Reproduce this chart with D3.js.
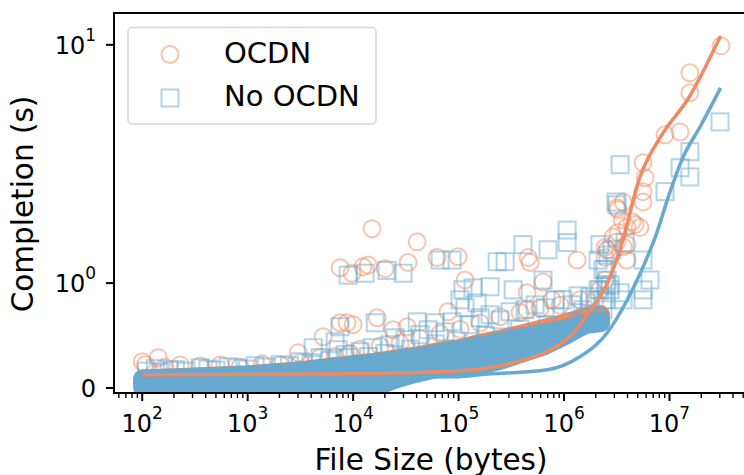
<!DOCTYPE html>
<html>
<head>
<meta charset="utf-8">
<title>Completion vs File Size</title>
<script src="https://d3js.org/d3.v7.min.js"></script>
<style>
  body { margin: 0; background: #fff; }
  svg text { font-family: "DejaVu Sans", sans-serif; fill: #000; }
</style>
</head>
<body>
<div id="chart"></div>
<script>
// ---- data (file size in bytes, completion time in s) ----
const ocdnSize = [15100, 40500, 7530, 9770, 12400, 13900, 20100, 33200, 62500, 98900,
  115000, 79400, 7530, 8770, 10000, 16900, 32500, 23900, 5200, 3010,
  456000, 476000, 1330000, 632000, 446000, 769000, 446000, 2560000, 2450000, 3250000,
  3950000, 4710000, 3180000, 3630000, 3950000, 3550000, 5610000, 3630000, 3180000, 9060000,
  12600000, 5610000, 5860000, 5610000, 3250000, 4420000, 5250000, 2920000, 2450000, 3950000,
  30800000, 15600000, 15600000, 142, 100, 107,
  165, 229, 355, 548, 849, 1371, 2032, 3148, 4866, 6745, 9376, 11650, 18030, 27860,
  43150, 66830, 103300, 159900, 247200, 382800, 592900, 916800, 1419000, 1968000,
  2193000, 2448000, 1764000];
const ocdnTime = [1.69, 1.49, 1.16, 1.10, 1.17, 1.19, 1.15, 1.22, 1.28, 1.29,
  1.03, 0.727, 0.622, 0.622, 0.603, 0.67, 0.584, 0.555, 0.489, 0.336,
  1.28, 1.22, 1.25, 1.01, 0.908, 0.841, 0.746, 1.38, 1.28, 1.63,
  1.72, 1.76, 1.49, 1.42, 1.25, 1.84, 2.19, 2.19, 2.07, 4.19,
  4.31, 3.2, 2.77, 2.42, 2.03, 1.81, 1.71, 1.56, 1.41, 1.45,
  9.9, 7.63, 6.29, 0.289, 0.25, 0.222,
  0.2, 0.22, 0.21, 0.22, 0.2, 0.23, 0.22, 0.24, 0.29, 0.3, 0.33, 0.37, 0.4, 0.43,
  0.47, 0.52, 0.56, 0.62, 0.68, 0.72, 0.76, 0.79, 0.841, 0.841,
  0.936, 1.03, 0.698];

const noSize = [8970, 13000, 21000, 29800, 66800, 86700, 110000, 137000, 16200, 7500,
  40500, 59800, 103000, 115000, 150000, 4180, 6750, 232000, 276000, 408000,
  705000, 1070000, 1070000, 3180000, 199000, 329000, 632000, 2340000, 2560000, 5610000,
  5610000, 5610000, 3400000, 3630000, 977000, 1760000, 1510000, 30100000, 15600000, 12600000,
  15600000, 9060000, 3400000, 3110000, 3790000,
  2190000, 2340000, 2500000, 2190000, 2730000, 2450000, 2100000, 2610000, 2850000, 2190000, 6530000,
  133, 206, 355, 653, 1178, 2032, 3148, 4866, 7209, 8397,
  11650, 15130, 22430, 25010, 31110, 43150, 51400, 74470, 86700, 128500,
  159900, 199100, 247200, 307400, 426600, 530900, 660700, 822200, 1191000, 1358000,
  1764000, 2099000, 2344000, 2500000, 2729000,
  110, 150, 180, 260, 420, 500, 800, 1000, 1500, 2500, 4000, 6000, 9000, 14000, 20000,
  35000, 60000, 95000, 180000, 380000, 700000, 1600000, 2000000];
const noTime = [1.08, 1.10, 1.13, 1.10, 1.25, 1.25, 0.936, 0.955, 0.622, 0.584,
  0.631, 0.622, 0.841, 0.765, 0.812, 0.384, 0.441, 1.23, 1.23, 1.45,
  1.38, 1.67, 1.48, 2.13, 0.965, 0.936, 1.03, 1.14, 1.03, 1.25,
  0.936, 0.841, 0.908, 0.841, 0.841, 0.87, 0.746, 4.75, 3.56, 3.05,
  2.79, 2.42, 3.14, 2.19, 1.48,
  0.65, 0.746, 0.841, 0.936, 0.984, 1.14, 1.25, 1.31, 1.38, 1.45, 1.03,
  0.184, 0.174, 0.193, 0.203, 0.212, 0.222, 0.25, 0.289, 0.365, 0.317,
  0.346, 0.384, 0.412, 0.479, 0.46, 0.508, 0.555, 0.536, 0.631, 0.603,
  0.67, 0.698, 0.65, 0.727, 0.746, 0.793, 0.765, 0.841, 0.793, 0.879,
  0.841, 0.936, 0.841, 0.984, 0.936,
  0.16, 0.15, 0.17, 0.16, 0.18, 0.17, 0.19, 0.18, 0.2, 0.21, 0.24, 0.26, 0.29, 0.3, 0.33,
  0.37, 0.42, 0.45, 0.5, 0.56, 0.6, 0.68, 0.7];

// dense part of each cloud: range of completion times per file size
const bandSize = [100, 316, 1000, 3162, 10000, 15850, 25120, 39810, 63100, 100000,
  158500, 251200, 398100, 631000, 1000000, 1585000, 2239000];
const noLow = [0, 0, 0, 0, 0, 0, 0.079, 0.136, 0.184, 0.203, 0.212, 0.26, 0.327, 0.393, 0.489, 0.6, 0.62];
const noHigh = [0.089, 0.108, 0.127, 0.165, 0.222, 0.241, 0.27, 0.298, 0.336, 0.374, 0.412, 0.45, 0.489, 0.527, 0.565, 0.62, 0.64];
const ocdnLow = [0.03, 0.03, 0.03, 0.03, 0.03, 0.03, 0.09, 0.15, 0.2, 0.22, 0.23, 0.28, 0.35, 0.41, 0.5, 0.61, 0.63];
const ocdnHigh = [0.09, 0.11, 0.13, 0.17, 0.23, 0.25, 0.28, 0.31, 0.35, 0.38, 0.43, 0.47, 0.52, 0.57, 0.62, 0.68, 0.7];

// fitted trend lines
const ocdnFitSize = [100, 9300, 100000, 330000, 690000, 1230000, 1780000, 2570000, 3390000, 5250000, 8700000, 14800000, 30500000];
const ocdnFit = [0.127, 0.136, 0.164, 0.241, 0.347, 0.527, 0.746, 1.0, 1.38, 2.79, 4.27, 5.88, 10.9];
const noFitSize = [100, 100000, 158000, 690000, 1410000, 2570000, 3980000, 5620000, 7590000, 9550000, 13500000, 19500000, 30500000];
const noFit = [0.089, 0.108, 0.127, 0.174, 0.298, 0.527, 0.841, 1.17, 1.63, 2.24, 3.39, 4.53, 6.6];

const xTicks = [1e2, 1e3, 1e4, 1e5, 1e6, 1e7];
const yTicks = [0, 1, 10];
const yTickExp = [null, "0", "1"];

const orange = "#ef8a62", blue = "#67a9cf";

// ---- layout ----
const width = 744, height = 475;
const plotLeft = 114, plotRight = 748, plotTop = 13, plotBottom = 393;

const svg = d3.select("#chart").append("svg")
  .attr("width", width).attr("height", height);

const x = d3.scaleLog().domain([54, 5.55e7]).range([plotLeft, plotRight]);

// symlog y axis, linear between 0 and 1
const linSpan = 0.44;
const symT = v => v <= 1 ? v * linSpan : linSpan + Math.log10(v);
const yLin = d3.scaleLinear().domain([symT(-0.048), symT(13.6)]).range([plotBottom, plotTop]);
const y = v => yLin(symT(v));

svg.append("clipPath").attr("id", "plotClip")
  .append("rect").attr("x", plotLeft).attr("y", plotTop)
  .attr("width", plotRight - plotLeft).attr("height", plotBottom - plotTop);

const plot = svg.append("g").attr("clip-path", "url(#plotClip)");

const band = d3.area()
  .x(d => x(d.size)).y0(d => y(d.low)).y1(d => y(d.high));

const ocdnBand = bandSize.map((s, i) => ({ size: s, low: ocdnLow[i], high: ocdnHigh[i] }));
const noBand = bandSize.map((s, i) => ({ size: s, low: noLow[i], high: noHigh[i] }));

// orange cloud
plot.append("path").datum(ocdnBand)
  .attr("d", band)
  .attr("fill", orange).attr("stroke", orange)
  .attr("stroke-width", 18).attr("stroke-linejoin", "round");

plot.selectAll(".ocdn")
  .data(ocdnSize.map((s, i) => ({ size: s, time: ocdnTime[i] })))
  .enter().append("circle")
  .attr("class", "ocdn")
  .attr("cx", d => x(d.size)).attr("cy", d => y(d.time))
  .attr("r", 8.5)
  .attr("fill", "none").attr("stroke", orange)
  .attr("stroke-width", 2).attr("stroke-opacity", 0.5);

// blue cloud
plot.append("path").datum(noBand)
  .attr("d", band)
  .attr("fill", blue).attr("stroke", blue)
  .attr("stroke-width", 18).attr("stroke-linejoin", "round");

plot.selectAll(".noocdn")
  .data(noSize.map((s, i) => ({ size: s, time: noTime[i] })))
  .enter().append("rect")
  .attr("class", "noocdn")
  .attr("x", d => x(d.size) - 8.5).attr("y", d => y(d.time) - 8.5)
  .attr("width", 17).attr("height", 17)
  .attr("fill", "none").attr("stroke", blue)
  .attr("stroke-width", 2).attr("stroke-opacity", 0.5);

// fit lines
const fitLine = d3.line()
  .x(d => x(d.size)).y(d => y(d.time))
  .curve(d3.curveMonotoneX);

plot.append("path")
  .datum(ocdnFitSize.map((s, i) => ({ size: s, time: ocdnFit[i] })))
  .attr("d", fitLine)
  .attr("fill", "none").attr("stroke", orange).attr("stroke-width", 3.5);

plot.append("path")
  .datum(noFitSize.map((s, i) => ({ size: s, time: noFit[i] })))
  .attr("d", fitLine)
  .attr("fill", "none").attr("stroke", blue).attr("stroke-width", 3.5);

// ---- axes ----
svg.append("rect")
  .attr("x", plotLeft).attr("y", plotTop)
  .attr("width", plotRight - plotLeft).attr("height", plotBottom - plotTop)
  .attr("fill", "none").attr("stroke", "#000").attr("stroke-width", 2);

// x ticks (major + minor)
const isMajor = v => Math.abs(Math.log10(v) - Math.round(Math.log10(v))) < 1e-9;
svg.append("g").selectAll("line")
  .data(x.ticks().filter(v => v >= 54 && v <= 5.55e7))
  .enter().append("line")
  .attr("x1", d => x(d)).attr("x2", d => x(d))
  .attr("y1", plotBottom).attr("y2", d => plotBottom + (isMajor(d) ? 8 : 5))
  .attr("stroke", "#000").attr("stroke-width", d => isMajor(d) ? 2 : 1.4);

const xLabels = svg.append("g").selectAll("text")
  .data(xTicks).enter().append("text")
  .attr("x", d => x(d)).attr("y", 432)
  .attr("text-anchor", "middle")
  .attr("font-size", 24);
xLabels.append("tspan").text("10");
xLabels.append("tspan").attr("dy", -13).attr("font-size", 17)
  .text(d => Math.round(Math.log10(d)));

// y ticks
svg.append("g").selectAll("line")
  .data(yTicks).enter().append("line")
  .attr("x1", plotLeft - 8).attr("x2", plotLeft)
  .attr("y1", d => y(d)).attr("y2", d => y(d))
  .attr("stroke", "#000").attr("stroke-width", 2);

const yLabels = svg.append("g").selectAll("text")
  .data(yTicks).enter().append("text")
  .attr("x", 96).attr("y", d => y(d) + 9)
  .attr("text-anchor", "end")
  .attr("font-size", 24);
yLabels.each(function (d, i) {
  const t = d3.select(this);
  if (yTickExp[i] === null) {
    t.text(d);
  } else {
    t.append("tspan").text("10");
    t.append("tspan").attr("dy", -13).attr("font-size", 17).text(yTickExp[i]);
  }
});

// axis titles
svg.append("text")
  .attr("x", 431).attr("y", 469.5)
  .attr("text-anchor", "middle").attr("font-size", 29.5)
  .text("File Size (bytes)");

svg.append("text")
  .attr("transform", "translate(33,204) rotate(-90)")
  .attr("text-anchor", "middle").attr("font-size", 29.5)
  .text("Completion (s)");

// ---- legend ----
const legend = svg.append("g");
legend.append("rect")
  .attr("x", 128).attr("y", 27.5).attr("width", 248).attr("height", 96.5)
  .attr("rx", 4)
  .attr("fill", "#fff").attr("fill-opacity", 0.8)
  .attr("stroke", "#d6d6d6").attr("stroke-width", 1.5);

legend.append("circle")
  .attr("cx", 170).attr("cy", 54.5).attr("r", 8.5)
  .attr("fill", "none").attr("stroke", orange)
  .attr("stroke-width", 2).attr("stroke-opacity", 0.5);
legend.append("rect")
  .attr("x", 161.5).attr("y", 89.5).attr("width", 17).attr("height", 17)
  .attr("fill", "none").attr("stroke", blue)
  .attr("stroke-width", 2).attr("stroke-opacity", 0.5);

legend.append("text").attr("x", 224).attr("y", 62.7)
  .attr("font-size", 29).text("OCDN");
legend.append("text").attr("x", 224).attr("y", 106)
  .attr("font-size", 29).text("No OCDN");
</script>
</body>
</html>
